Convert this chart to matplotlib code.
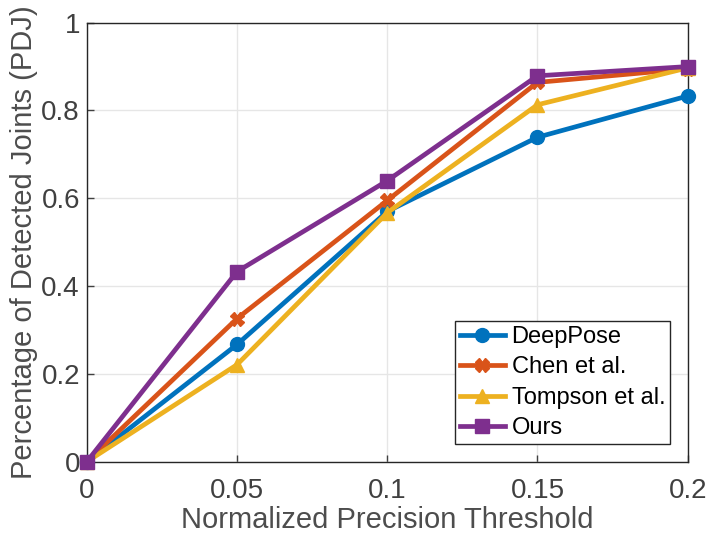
import matplotlib.pyplot as plt

plt.rcParams['font.family'] = ['Liberation Sans', 'DejaVu Sans']

thresholds = [0, 0.05, 0.1, 0.15, 0.2]
deeppose = [0, 0.267, 0.570, 0.739, 0.833]
chen = [0, 0.326, 0.595, 0.864, 0.895]
tompson = [0, 0.221, 0.567, 0.813, 0.897]
ours = [0, 0.433, 0.640, 0.879, 0.900]

names = ['DeepPose', 'Chen et al.', 'Tompson et al.', 'Ours']
series = [deeppose, chen, tompson, ours]
colors = ['#0072BD', '#D95319', '#EDB120', '#7E2F8E']
markers = ['o', 'X', '^', 's']

fig, ax = plt.subplots(figsize=(7.06, 5.4), dpi=100)
fig.subplots_adjust(left=0.123, right=0.974, top=0.958, bottom=0.145)

for vals, name, col, m in zip(series, names, colors, markers):
    ax.plot(thresholds, vals, color=col, lw=3.4, marker=m, ms=10,
            mec=col, mfc=col, label=name, clip_on=False, zorder=3)

ax.set_xlim(0, 0.2)
ax.set_ylim(0, 1)
ax.set_xticks(thresholds)
ax.set_xticklabels(['0', '0.05', '0.1', '0.15', '0.2'])
ax.set_yticks([0, 0.2, 0.4, 0.6, 0.8, 1])
ax.set_yticklabels(['0', '0.2', '0.4', '0.6', '0.8', '1'])
ax.grid(True, color='#e6e6e6', lw=1)
ax.set_axisbelow(True)
ax.tick_params(direction='in', labelsize=20, colors='#404040', length=5, width=1, pad=5)
ax.tick_params(axis='x', pad=12)
for s in ax.spines.values():
    s.set_color('#262626')
    s.set_linewidth(1)

ax.set_xlabel('Normalized Precision Threshold', fontsize=21, color='#4d4d4d', labelpad=1)
ax.set_ylabel('Percentage of Detected Joints (PDJ)', fontsize=21, color='#4d4d4d', labelpad=2)

leg = ax.legend(loc='lower right', fontsize=17, fancybox=False, framealpha=1,
                edgecolor='#262626', handlelength=1.9, handletextpad=0.3,
                borderpad=0.2, labelspacing=0.36, borderaxespad=0.75)
leg.get_frame().set_linewidth(1)

fig.savefig('out.png')
